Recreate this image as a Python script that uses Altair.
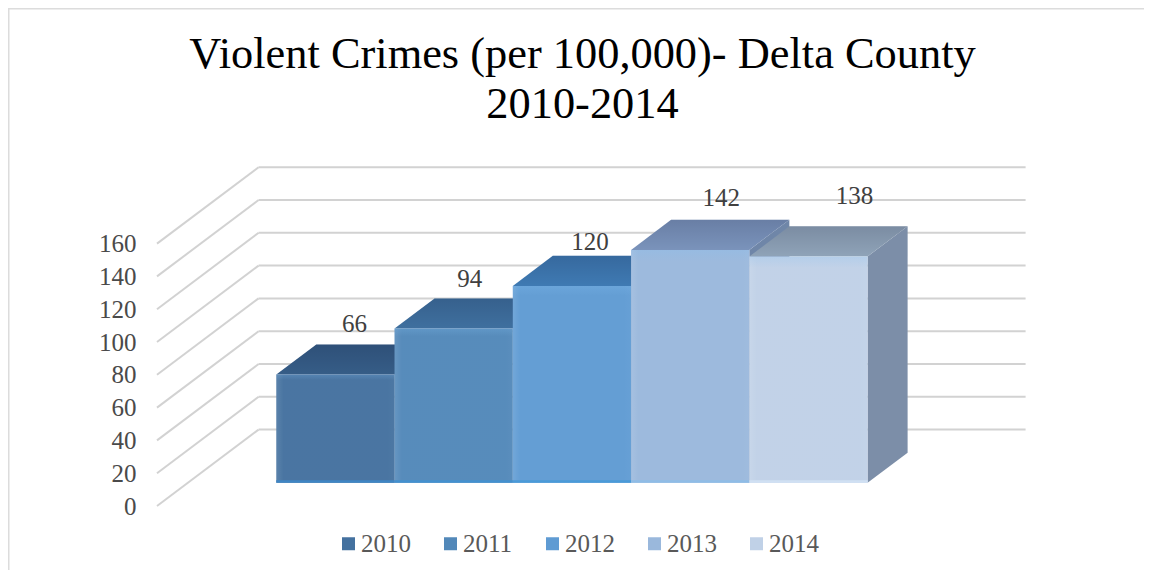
import altair as alt
import pandas as pd

years = ["2010", "2011", "2012", "2013", "2014"]
values = [66, 94, 120, 142, 138]
front_colors = ["#44719f", "#5288b9", "#5f9bd3", "#9ab8dc", "#c0d1e7"]
top_colors = ["#365d87", "#3f709f", "#3f7ab3", "#7a93bb", "#8fa3b8"]
side_colors = ["#3a5f85", "#41709c", "#4478a8", "#6f86a8", "#7c8ea8"]
base_colors = ["#3f86c4", "#4390cf", "#4a9ad8", "#8fbce6", "#d0e0f3"]
axis_ticks = [0, 20, 40, 60, 80, 100, 120, 140, 160]
title_lines = ["Violent Crimes (per 100,000)- Delta County", "2010-2014"]

# projection of the 3D box: x in bar widths, y in value units
PX_X = 118.26
PX_Y = 1.64
WALL_DX = 101.6 / PX_X
WALL_DY = 76.4 / PX_Y
WALL_W = 767 / PX_X
BAR_START = 88.4 / PX_X
D0 = 0.304
D1 = 0.304 + 0.394
BASE_H = 2.5 / PX_Y
PLOT_W = 870
PLOT_H = 339
FONT = "Liberation Serif"
# label shift from the centre of a bar's back top edge (in screen px)
label_dx = [-21, -24, -22, -9, 6]
label_dy = [20, 20, 14, 22, 30]


def px(i, depth):
    return BAR_START + i + depth * WALL_DX


def py(v, depth):
    return v + depth * WALL_DY


fronts, bases, tops, sides, labels, backs, diags = [], [], [], [], [], [], []
for i, (yr, v) in enumerate(zip(years, values)):
    fronts.append(dict(year=yr, x=px(i, D0), x2=px(i + 1, D0), y=py(0, D0), y2=py(v, D0)))
    bases.append(dict(year=yr, fill=base_colors[i], x=px(i, D0), x2=px(i + 1, D0),
                      y=py(0, D0), y2=py(0, D0) + BASE_H))
    for x, lo, hi in [
        (px(i, D0), py(v, D0), py(v, D0)),
        (px(i, D1), py(v, D0), py(v, D1)),
        (px(i + 1, D0), py(v, D0), py(v, D1)),
        (px(i + 1, D1), py(v, D1), py(v, D1)),
    ]:
        tops.append(dict(year=yr, fill=top_colors[i], x=x, y=lo, y2=hi))
    for x, lo, hi in [
        (px(i + 1, D0), py(0, D0), py(v, D0)),
        (px(i + 1, D1), py(0, D1), py(v, D1)),
    ]:
        sides.append(dict(year=yr, fill=side_colors[i], x=x, y=lo, y2=hi))
    labels.append(dict(
        text=str(v),
        x=px(i + 0.5, D1) + label_dx[i] / PX_X,
        y=py(v, D1) + label_dy[i] / PX_Y,
    ))

for t in axis_ticks:
    backs.append(dict(x=WALL_DX, x2=WALL_DX + WALL_W, y=py(t, 1)))
    diags.append(dict(x=0, x2=WALL_DX, y=t, y2=py(t, 1)))

x_scale = alt.Scale(domain=[0, PLOT_W / PX_X], nice=False, zero=False)
y_scale = alt.Scale(domain=[0, PLOT_H / PX_Y], nice=False, zero=False)
y_axis = alt.Axis(
    values=axis_ticks, domain=False, ticks=False, grid=False, title=None,
    labelFont=FONT, labelFontSize=25, labelColor="#4a4a4a", labelPadding=21,
)
X = alt.X("x:Q", scale=x_scale, axis=None)
Y = alt.Y("y:Q", scale=y_scale, axis=y_axis)

GRID = "#d2d2d2"

back_lines = alt.Chart(pd.DataFrame(backs)).mark_rule(color=GRID, strokeWidth=2).encode(
    x=X, x2="x2:Q", y=Y,
)
diag_lines = alt.Chart(pd.DataFrame(diags)).mark_rule(color=GRID, strokeWidth=2).encode(
    x=X, x2="x2:Q", y=Y, y2="y2:Q",
)

side_faces = alt.Chart(pd.DataFrame(sides)).mark_area(opacity=1).encode(
    x=X, y=Y, y2="y2:Q", detail="year:N", color=alt.Color("fill:N", scale=None),
)
top_faces = alt.Chart(pd.DataFrame(tops)).mark_area(opacity=1).encode(
    x=X, y=Y, y2="y2:Q", detail="year:N", color=alt.Color("fill:N", scale=None),
)
top_shade = alt.Chart(pd.DataFrame(tops)).mark_area(
    opacity=1,
    fill=alt.Gradient(
        gradient="linear", x1=0, y1=0, x2=0, y2=1,
        stops=[
            alt.GradientStop(offset=0, color="rgba(0,0,30,0.14)"),
            alt.GradientStop(offset=1, color="rgba(0,0,30,0)"),
        ],
    ),
).encode(x=X, y=Y, y2="y2:Q", detail="year:N")

front_faces = alt.Chart(pd.DataFrame(fronts)).mark_rect().encode(
    x=X, x2="x2:Q", y=Y, y2="y2:Q",
    color=alt.Color(
        "year:N",
        scale=alt.Scale(domain=years, range=front_colors),
        legend=alt.Legend(
            title=None, orient="none", legendX=179, legendY=364, columns=5,
            symbolType="square", symbolSize=169, symbolStrokeWidth=0,
            labelFont=FONT, labelFontSize=25, labelColor="#595959",
            labelOffset=0, columnPadding=27, symbolOpacity=1,
        ),
    ),
)
front_edge = alt.Chart(pd.DataFrame(fronts)).mark_rect(
    fill=alt.Gradient(
        gradient="linear", x1=0, y1=0, x2=1, y2=0,
        stops=[
            alt.GradientStop(offset=0, color="rgba(255,255,255,0.12)"),
            alt.GradientStop(offset=0.06, color="rgba(255,255,255,0.03)"),
            alt.GradientStop(offset=0.94, color="rgba(255,255,255,0.03)"),
            alt.GradientStop(offset=1, color="rgba(255,255,255,0.05)"),
        ],
    ),
).encode(x=X, x2="x2:Q", y=Y, y2="y2:Q")
front_top = alt.Chart(pd.DataFrame(fronts)).mark_rect(
    fill=alt.Gradient(
        gradient="linear", x1=0, y1=0, x2=0, y2=1,
        stops=[
            alt.GradientStop(offset=0, color="rgba(130,190,240,0.22)"),
            alt.GradientStop(offset=0.05, color="rgba(130,190,240,0)"),
        ],
    ),
).encode(x=X, x2="x2:Q", y=Y, y2="y2:Q")
front_base = alt.Chart(pd.DataFrame(bases)).mark_rect().encode(
    x=X, x2="x2:Q", y=Y, y2="y2:Q", color=alt.Color("fill:N", scale=None),
)

value_labels = alt.Chart(pd.DataFrame(labels)).mark_text(
    font=FONT, fontSize=25, color="#404040", align="center", baseline="middle",
).encode(x=X, y=Y, text="text:N")

title_marks = alt.layer(*[
    alt.Chart(pd.DataFrame({"t": [line]})).mark_text(
        font=FONT, fontSize=44.4, color="#000000", align="center", baseline="alphabetic",
    ).encode(x=alt.value(425.5), y=alt.value(-99 + 50 * k), text="t:N")
    for k, line in enumerate(title_lines)
])

frame_left = alt.Chart(pd.DataFrame({"a": [0]})).mark_rule(color="#dcdcdc", strokeWidth=2).encode(
    x=alt.value(-148.5), y=alt.value(-160), y2=alt.value(PLOT_H + 64),
)
frame_top = alt.Chart(pd.DataFrame({"a": [0]})).mark_rule(color="#dcdcdc", strokeWidth=2).encode(
    x=alt.value(-149), x2=alt.value(PLOT_W + 117), y=alt.value(-158.5),
)

chart = alt.layer(
    frame_left, frame_top, diag_lines, back_lines, side_faces, top_faces, top_shade,
    front_faces, front_edge, front_top, front_base, value_labels, title_marks,
).properties(
    width=PLOT_W,
    height=PLOT_H,
    autosize="none",
    padding={"left": 149, "top": 159, "right": 1136 - 149 - PLOT_W, "bottom": 562 - 159 - PLOT_H},
).resolve_scale(color="independent").configure_view(stroke=None)

chart.save("out.html", embed_options={"renderer": "svg", "actions": False})
